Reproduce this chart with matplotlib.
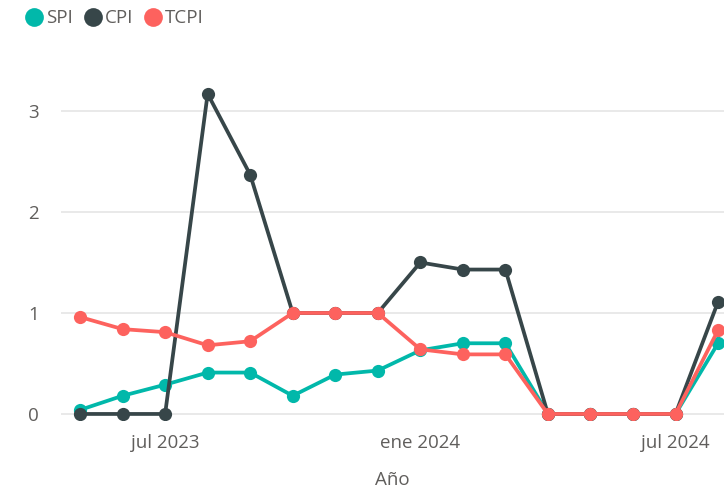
import matplotlib
matplotlib.use("Agg")
import matplotlib.pyplot as plt
from matplotlib.lines import Line2D

# meses desde may 2023 hasta ago 2024
months = ["may 2023", "jun 2023", "jul 2023", "ago 2023", "sep 2023", "oct 2023",
          "nov 2023", "dic 2023", "ene 2024", "feb 2024", "mar 2024", "abr 2024",
          "may 2024", "jun 2024", "jul 2024", "ago 2024"]
spi = [0.04, 0.18, 0.29, 0.41, 0.41, 0.18, 0.39, 0.43, 0.63, 0.70, 0.70,
       0.0, 0.0, 0.0, 0.0, 0.70]
cpi = [0.0, 0.0, 0.0, 3.17, 2.37, 1.0, 1.0, 1.0, 1.50, 1.43, 1.43,
       0.0, 0.0, 0.0, 0.0, 1.11]
tcpi = [0.96, 0.84, 0.81, 0.68, 0.72, 1.0, 1.0, 1.0, 0.64, 0.59, 0.59,
        0.0, 0.0, 0.0, 0.0, 0.83]
tick_labels = ["jul 2023", "ene 2024", "jul 2024"]

series = [("SPI", spi, "#01B8AA"), ("CPI", cpi, "#374649"), ("TCPI", tcpi, "#FD625E")]

plt.rcParams["font.family"] = ["Open Sans", "DejaVu Sans"]
txt_color = "#605E5C"

fig = plt.figure(figsize=(7.24, 4.92), dpi=100)
ax = fig.add_axes([0.0843, 0.1463, 0.9157, 0.7307])

x = list(range(len(months)))
for name, vals, color in series:
    ax.plot(x, vals, color=color, linewidth=2.7, marker="o", markersize=9.5,
            markeredgewidth=0, label=name)

ax.set_xlim(-0.447, 15.14)
ax.set_ylim(-0.06, 3.5)
ax.set_yticks([0, 1, 2, 3])
ax.set_xticks([months.index(m) for m in tick_labels])
ax.set_xticklabels(tick_labels)
ax.tick_params(axis="both", length=0, labelsize=13.5, colors=txt_color)
ax.tick_params(axis="y", pad=16)
ax.tick_params(axis="x", pad=10)
ax.grid(axis="y", color="#E9E9E9", linewidth=1.4)
ax.set_axisbelow(True)
for s in ax.spines.values():
    s.set_visible(False)
ax.set_xlabel("Año", fontsize=13.5, color=txt_color, labelpad=14)

handles = [Line2D([], [], linestyle="none", marker="o", markersize=13.5,
                  markeredgewidth=0, color=c) for _, _, c in series]
fig.legend(handles, [n for n, _, _ in series], loc="upper left",
           bbox_to_anchor=(0.008, 1.015), ncol=3, frameon=False,
           handletextpad=0.05, columnspacing=0.45, handlelength=1.2,
           fontsize=13.5, labelcolor=txt_color)

fig.savefig("out.png", dpi=100)
